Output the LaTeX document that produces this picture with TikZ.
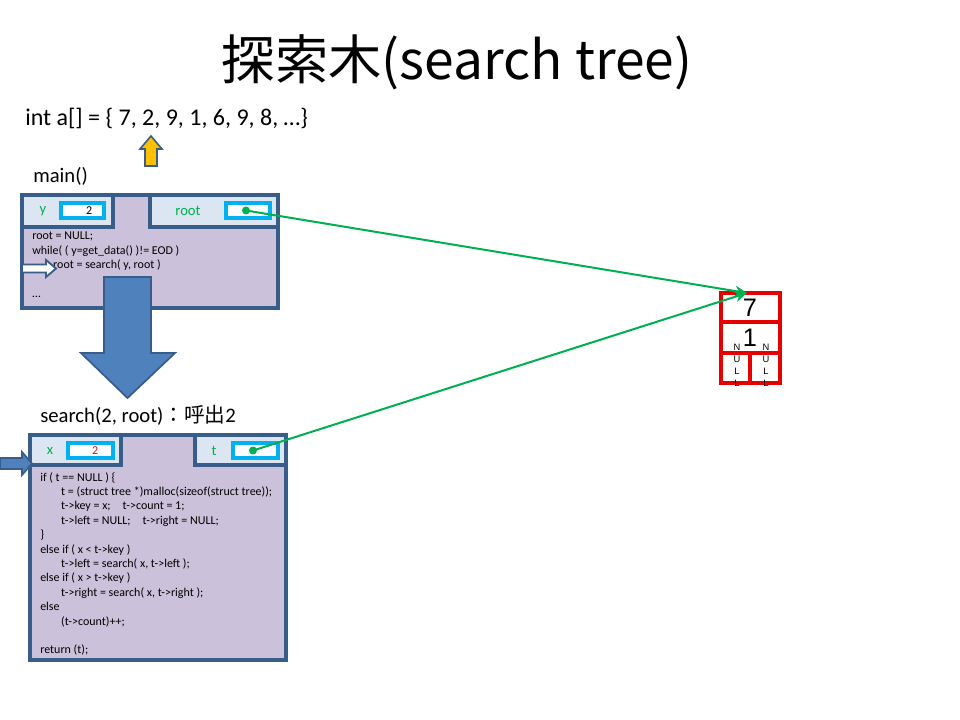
\documentclass[tikz,border=0pt]{standalone}
\usepackage{fontspec}
\setmainfont{Carlito}
\newfontfamily\cjkfont{Noto Sans CJK JP}
\newfontfamily\arialfont{Liberation Sans}
\usetikzlibrary{arrows.meta}
\definecolor{boxfill}{HTML}{CCC1DA}
\definecolor{tabfill}{HTML}{DCE6F2}
\definecolor{boxline}{HTML}{385D8A}
\definecolor{valline}{HTML}{00B0F0}
\definecolor{grn}{HTML}{00B050}
\definecolor{arrfill}{HTML}{4F81BD}
\definecolor{yel}{HTML}{FFC000}
\definecolor{nred}{HTML}{E60000}
\tikzset{
  frame/.style={draw=boxline, line width=2.6pt, fill=boxfill},
  tabbox/.style={draw=boxline, line width=2.6pt, fill=tabfill},
  valbox/.style={draw=valline, line width=2.6pt, fill=white},
  varlabel/.style={text=grn, font=\fontsize{11}{13}\selectfont},
  codetext/.style={anchor=north west, align=left, inner sep=0pt, font=\fontsize{9}{10.8}\selectfont},
  plain/.style={font=\fontsize{18}{22}\selectfont, inner sep=0pt},
  cell/.style={draw=nred, line width=2.6pt},
  ptr/.style={draw=grn, line width=1.5pt, -{Stealth[length=9pt,width=8pt]}},
}
\newcommand{\ind}{\hspace*{15.7pt}}
\begin{document}
\begin{tikzpicture}[x=0.75pt,y=-0.75pt]
\useasboundingbox[fill=white] (0,0) rectangle (960,720);

% title
\node[inner sep=0pt, font=\cjkfont\fontsize{40}{48}\selectfont] (title) at (457,62) {探索木(search tree)};

\node[plain, anchor=west] (arr) at (25,118) {int a[] = \{ 7, 2, 9, 1, 6, 9, 8, …\}};
\node[plain, anchor=west, font=\fontsize{15.5}{19}\selectfont] (mainlbl) at (33,176) {main()};

% yellow arrow
\draw[draw=boxline, line width=1.2pt, fill=yel] (145,166) -- (145,149) -- (140,149) -- (151,136) -- (162,149) -- (157,149) -- (157,166) -- cycle;

% main box
\path[frame] (22,195) rectangle (278,308);
\path[tabbox] (22,195) rectangle (113,227);
\path[tabbox] (150,195) rectangle (278,227);
\node[varlabel] (ylbl) at (43,211) {y};
\node[varlabel] (rootlbl) at (188,211) {root};
\path[valbox] (61,203) rectangle (104,218);
\node[font=\fontsize{9}{11}\selectfont, anchor=east] (yval) at (97,210.5) {2};
\path[valbox] (226,203) rectangle (270,218);
\fill[grn] (246,210.5) circle (4);
\node[coordinate] (rootdot) at (246,210.5) {};

\node[codetext] (maincode) at (32,232) {root = NULL;\\
while( ( y=get\_data() )!= EOD )\\
\ind root = search( y, root )\\
\\
…};

% hollow small arrow
\draw[draw=boxline, line width=1.4pt, fill=white] (22,264.5) -- (46,264.5) -- (46,260) -- (56,268.5) -- (46,277) -- (46,272.5) -- (22,272.5) -- cycle;

% big down arrow
\draw[draw=boxline, line width=1.3pt, fill=arrfill] (104,277) -- (151,277) -- (151,353) -- (175,353) -- (127.5,398) -- (81,353) -- (104,353) -- cycle;

% search label
\node[plain, anchor=west, font=\fontsize{15.5}{19}\selectfont] (searchlbl) at (40,415) {search(2, root){\cjkfont ：呼出}2};

% search box
\path[frame] (30,435) rectangle (286,660);
\path[tabbox] (30,435) rectangle (121,465);
\path[tabbox] (195,435) rectangle (286,465);
\node[varlabel] (xlbl) at (50,451) {x};
\node[varlabel] (tlbl) at (214,451) {t};
\path[valbox] (68,443) rectangle (113,458);
\node[font=\fontsize{9}{11}\selectfont, anchor=east, text=red] (xval) at (103,450.5) {2};
\path[valbox] (233,443) rectangle (278,458);
\fill[grn] (253,450.5) circle (4);
\node[coordinate] (tdot) at (253,450.5) {};

\node[codetext] (searchcode) at (40,472) {if ( t == NULL ) \{\\
\ind t = (struct tree *)malloc(sizeof(struct tree));\\
\ind t->key = x;\quad t->count = 1;\\
\ind t->left = NULL;\quad t->right = NULL;\\
\}\\
else if ( x < t->key )\\
\ind t->left = search( x, t->left );\\
else if ( x > t->key )\\
\ind t->right = search( x, t->right );\\
else\\
\ind (t->count)++;\\
\\
return (t);};

% left filled arrow
\draw[draw=boxline, line width=1.3pt, fill=arrfill] (0,458) -- (22,458) -- (22,452) -- (32,463.5) -- (22,475) -- (22,469) -- (0,469) -- cycle;

% tree node
\path[cell] (721,293) rectangle (780,322);
\path[cell] (721,322) rectangle (780,353);
\path[cell] (721,353) rectangle (750,383);
\path[cell] (750,353) rectangle (780,383);
\node[font=\arialfont\fontsize{19}{22}\selectfont] (keyval) at (750,307.5) {7};
\node[font=\arialfont\fontsize{19}{22}\selectfont] (cntval) at (750,338) {1};
\node[coordinate] (nodetop) at (747,293) {};
\node[font=\arialfont\fontsize{7}{9}\selectfont, align=center, inner sep=0pt] (nl) at (737,365.5) {N\\U\\L\\L};
\node[font=\arialfont\fontsize{7}{9}\selectfont, align=center, inner sep=0pt] (nr) at (766,365.5) {N\\U\\L\\L};

% pointers
\draw[ptr] (rootdot) -- (nodetop);
\draw[ptr] (tdot) -- (nodetop);
\end{tikzpicture}
\end{document}
